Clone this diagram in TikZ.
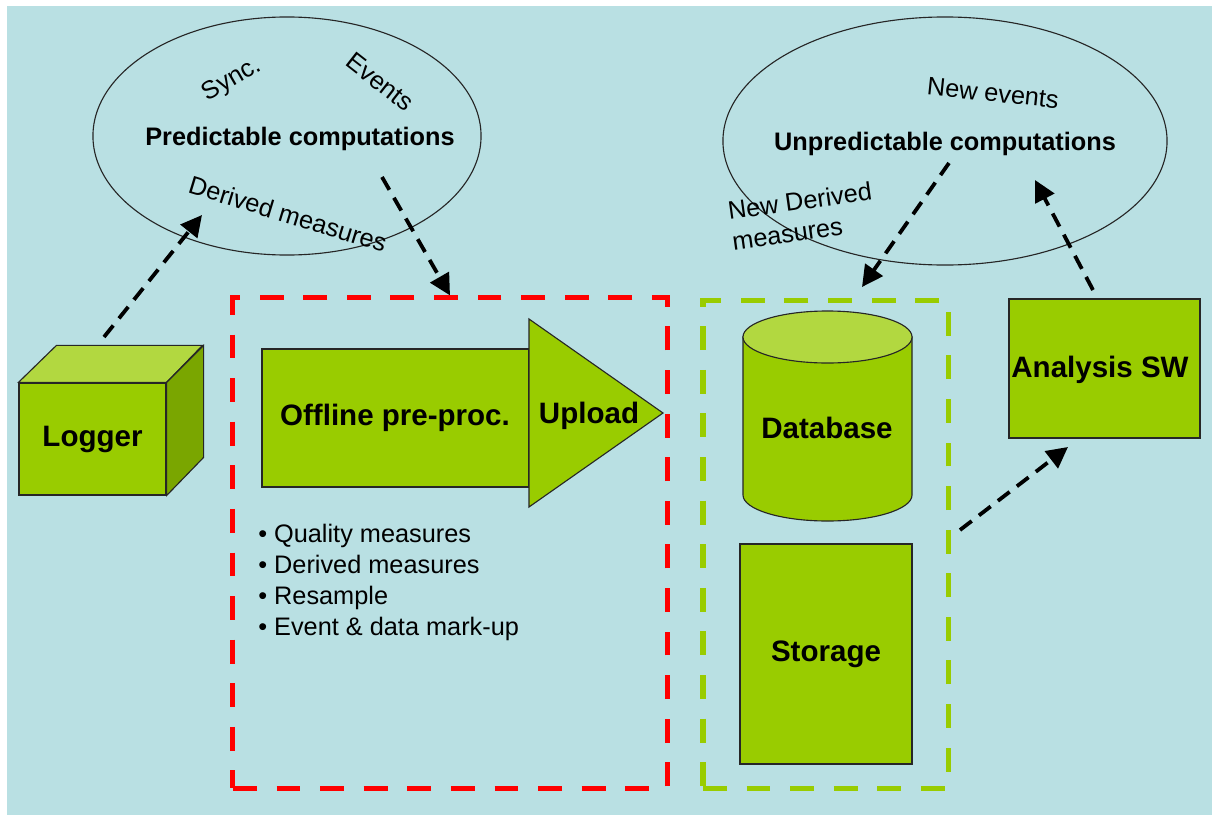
\documentclass[tikz,border=0pt]{standalone}
\usepackage{fontspec}
\setmainfont{Liberation Sans}
\usetikzlibrary{shapes.geometric}
\usetikzlibrary{arrows.meta}
\usetikzlibrary{positioning}

\definecolor{bgblue}{RGB}{185,224,227}
\definecolor{boxgreen}{RGB}{153,204,0}
\definecolor{topgreen}{RGB}{178,216,64}
\definecolor{sidegreen}{RGB}{122,166,0}
\definecolor{edgegreen}{RGB}{153,204,0}

\tikzset{
    block/.style={draw=black!85,fill=boxgreen,line width=0.8pt,inner sep=0pt},
    boxlabel/.style={font=\fontsize{21}{25}\selectfont\bfseries,inner sep=0pt},
    cloudtitle/.style={font=\fontsize{18}{22}\selectfont\bfseries,inner sep=0pt},
    cloudtext/.style={font=\fontsize{18}{22}\selectfont,inner sep=0pt},
    cloud/.style={ellipse,draw=black!85,line width=0.8pt,inner sep=0pt},
    zone/.style={rectangle,line width=3.6pt,dash pattern=on 17pt off 14pt,inner sep=0pt},
    flow/.style={line width=2.7pt,dash pattern=on 10.5pt off 6.5pt,
        -{Triangle[length=15pt,width=15pt]}},
}

\begin{document}
\begin{tikzpicture}[x=0.025cm,y=-0.025cm]
                \useasboundingbox (0,0) rectangle (1212,816);
                \fill[white] (0,0) rectangle (1212,816);
                \fill[bgblue] (7,6) rectangle (1212,815);

                % the two computation clouds
                \node[cloud,minimum width=9.7cm,minimum height=5.95cm] (predict) at (287,136) {};
                \node[cloudtitle] (predtitle) at (300,139) {Predictable computations};
                \node[cloudtext,rotate=30] (sync) at (232,80) {Sync.};
                \node[cloudtext,rotate=-38] (events) at (380,82) {Events};
                \node[cloudtext,rotate=-17] (derived) at (288,214) {Derived measures};

                \node[cloud,minimum width=11.1cm,minimum height=6.2cm] (unpredict) at (945,141) {};
                \node[cloudtitle] (unpredtitle) at (945,144) {Unpredictable computations};
                \node[cloudtext,rotate=-6] (newevents) at (993,93) {New events};
                \node[cloudtext,rotate=8,align=left] (newderived) at (802,216) {New Derived\\measures};

                % logger cube
                \node[block,minimum width=3.675cm,minimum height=2.8cm] (logger) at (92.5,439) {};
                \filldraw[topgreen,draw=black!85,line width=0.8pt]
                    (logger.north west) -- ++(38,-37) -- ++(146,0) -- (logger.north east) -- cycle;
                \filldraw[sidegreen,draw=black!85,line width=0.8pt]
                    (logger.north east) -- ++(37,-37) -- ++(0,112) -- (logger.south east) -- cycle;
                \node[boxlabel] at (logger) {Logger};

                % offline zone
                \node[zone,draw=red,minimum width=10.85cm,minimum height=12.25cm] (offline) at (450,543) {};
                \filldraw[boxgreen,draw=black!85,line width=0.8pt] (262,349) rectangle (529,487);
                \filldraw[boxgreen,draw=black!85,line width=0.8pt] (529,319) -- (663,413) -- (529,507) -- cycle;
                \node[boxlabel] (preproc) at (395,418) {Offline pre-proc.};
                \node[boxlabel] (upload) at (589,416) {Upload};
                \node[cloudtext,align=left,anchor=north west] (steps) at (258,524)
                    {\textbullet\ Quality measures\\
                     \textbullet\ Derived measures\\
                     \textbullet\ Resample\\
                     \textbullet\ Event \& data mark-up};

                % online zone
                \node[zone,draw=edgegreen,minimum width=6.125cm,minimum height=12.175cm] (online) at (825.5,544.5) {};
                \filldraw[boxgreen,draw=black!85,line width=0.8pt]
                    (743,337) -- (743,495) arc[start angle=180,end angle=360,x radius=2.1125cm,y radius=0.65cm]
                    -- (912,337) -- cycle;
                \filldraw[topgreen,draw=black!85,line width=0.8pt] (827.5,337) ellipse[x radius=2.1125cm,y radius=0.65cm];
                \node[boxlabel] (database) at (827,428) {Database};
                \node[block,minimum width=4.3cm,minimum height=5.5cm] (storage) at (826,654) {};
                \node[boxlabel] at (storage) {Storage};

                \node[block,minimum width=4.775cm,minimum height=3.475cm] (analysis) at (1104.5,368.5) {};
                \node[boxlabel] at (1100,370) {Analysis SW};

                % dashed flows
                \coordinate (lgout) at (104,337);
                \coordinate (pcin) at (202,215);
                \coordinate (pcout) at (382,177);
                \coordinate (ucout) at (949,163);
                \coordinate (dbin) at (862,287);
                \coordinate (swout) at (1093,290);
                \coordinate (ucin) at (1035,180);
                \coordinate (onout) at (960,530);
                \coordinate (swin) at (1068,447);

                \draw[flow] (lgout) -- (pcin);
                \draw[flow] (pcout) -- (offline.north);
                \draw[flow] (ucout) -- (dbin);
                \draw[flow] (swout) -- (ucin);
                \draw[flow] (onout) -- (swin);
\end{tikzpicture}
\end{document}
